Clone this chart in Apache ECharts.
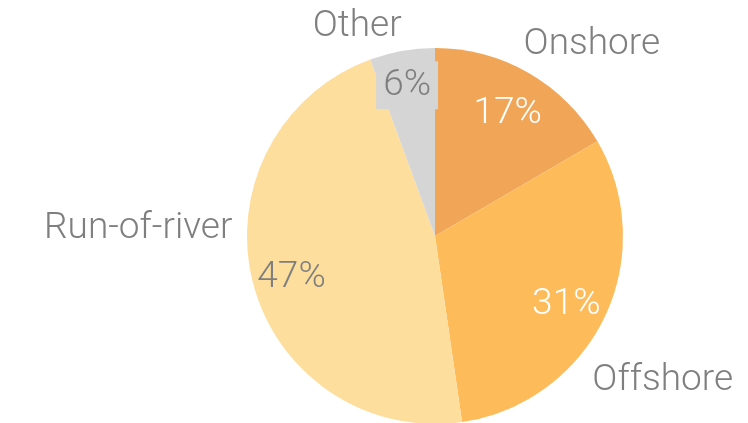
<!DOCTYPE html>
<html>
<head>
<meta charset="utf-8">
<script src="https://cdn.jsdelivr.net/npm/echarts@6/dist/echarts.min.js"></script>
<style>
	html, body { margin: 0; padding: 0; background: #fff; }
	#main { width: 748px; height: 423px; }
</style>
</head>
<body>
<div id="main"></div>
<script>
	// data
	var categories = ['Onshore', 'Offshore', 'Run-of-river', 'Other'];
	var shares = [16.6, 31.1, 46.7, 5.6];
	var colors = ['#F1A557', '#FEBB5A', '#FEDE9D', '#D5D5D5'];
	var pctColors = ['#ffffff', '#ffffff', '#7f7f7f', '#7f7f7f'];

	// label nudges (outer names, inner percentages)
	var nameShift = [[-20, -11], [-35, 54], [4, -58], [8, -4]];
	var pctShift = [[-1, 6], [-2, 4], [0, 5], [-2, -5]];

	var font = 'Roboto, "DejaVu Sans", sans-serif';

	var pieData = categories.map(function (c, i) {
		return { name: c, value: shares[i], itemStyle: { color: colors[i] } };
	});
	var labelData = categories.map(function (c, i) {
		var lab = { color: pctColors[i] };
		if (c === 'Other') {
			lab.backgroundColor = colors[i];
			lab.padding = [6, 7, 5, 7];
		}
		return { name: c, value: shares[i], label: lab };
	});

	var chart = echarts.init(document.getElementById('main'));
	chart.setOption({
		animation: false,
		series: [{
			type: 'pie',
			center: [435, 236],
			radius: [0, 188],
			startAngle: 90,
			clockwise: true,
			avoidLabelOverlap: false,
			itemStyle: { borderWidth: 0 },
			emphasis: { disabled: true },
			label: {
				show: true,
				position: 'outside',
				formatter: '{b}',
				color: '#7f7f7f',
				fontFamily: font,
				fontWeight: 300,
				fontSize: 37
			},
			labelLine: { show: false, length: 20, length2: 0 },
			labelLayout: function (p) {
				return { dx: nameShift[p.dataIndex][0], dy: nameShift[p.dataIndex][1] };
			},
			data: pieData
		}, {
			type: 'pie',
			center: [435, 236],
			radius: [102, 188],
			startAngle: 90,
			clockwise: true,
			silent: true,
			z: 5,
			emphasis: { disabled: true },
			itemStyle: { color: 'rgba(0,0,0,0)', borderWidth: 0 },
			label: {
				show: true,
				position: 'inside',
				formatter: function (p) { return Math.round(p.percent) + '%'; },
				fontFamily: font,
				fontWeight: 300,
				fontSize: 37
			},
			labelLine: { show: false },
			labelLayout: function (p) {
				return { dx: pctShift[p.dataIndex][0], dy: pctShift[p.dataIndex][1] };
			},
			data: labelData
		}]
	});
</script>
</body>
</html>
